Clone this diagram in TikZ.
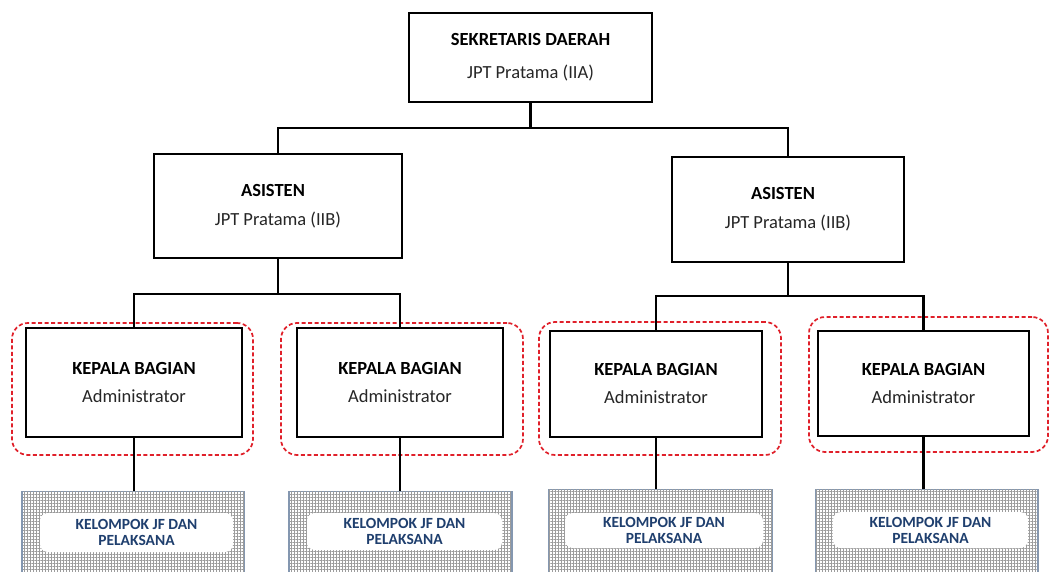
\documentclass[tikz,border=0pt]{standalone}
\usepackage{fontspec}
\setmainfont{Carlito}
\usetikzlibrary{patterns.meta}
\definecolor{jfblue}{HTML}{1F3F6E}
\definecolor{jfedge}{HTML}{8497B0}
\definecolor{dashred}{HTML}{E0202A}
\definecolor{gridgray}{HTML}{9C9C9C}

\begin{document}
\begin{tikzpicture}[x=1pt,y=-1pt,
  orgbox/.style={draw=black, line width=2.8pt, fill=white, align=center,
    inner sep=0pt, font=\fontsize{18.5}{28}\selectfont},
  link/.style={draw=black, line width=2.4pt},
  groupframe/.style={draw=dashred, line width=1.7pt, dash pattern=on 4pt off 2.5pt,
    rounded corners=16pt, inner sep=0pt},
  jfbox/.style={draw=jfedge, line width=1.2pt, anchor=north, inner sep=0pt,
    minimum height=100pt,
    preaction={fill=white},
    pattern={Lines[distance=3pt,angle=0,line width=0.7pt]}, pattern color=gridgray,
    postaction={pattern={Lines[distance=3pt,angle=90,line width=0.7pt]}, pattern color=gridgray}},
  jfinner/.style={fill=white, rounded corners=8pt, inner sep=0pt, align=center,
    text=jfblue, font=\bfseries\fontsize{15.5}{16}\selectfont}
]
\useasboundingbox (0,0) rectangle (1050,572);
\clip (0,0) rectangle (1050,572);
\fill[white] (0,0) rectangle (1050,572);

% dashed group frames around the section heads
\node[groupframe, minimum width=241pt, minimum height=132pt] (g1) at (132.5,389) {};
\node[groupframe, minimum width=242pt, minimum height=132pt] (g2) at (402,389) {};
\node[groupframe, minimum width=242pt, minimum height=133pt] (g3) at (660,388.5) {};
\node[groupframe, minimum width=239pt, minimum height=135pt] (g4) at (928.5,384.5) {};

% top level
\node[orgbox, minimum width=243pt, minimum height=89pt] (sek) at (530.5,57.5)
  {\textbf{SEKRETARIS DAERAH}\\[5pt]{\color{black!85}JPT Pratama (IIA)}};

% assistants
\node[orgbox, minimum width=248pt, minimum height=104pt] (asL) at (278,206)
  {\textbf{ASISTEN}\hspace*{10pt}\\[1pt]{\color{black!85}JPT Pratama (IIB)}};
\node[orgbox, minimum width=232pt, minimum height=105pt] (asR) at (788,209.5)
  {\textbf{ASISTEN}\hspace*{10pt}\\[1pt]{\color{black!85}JPT Pratama (IIB)}};

% section heads
\node[orgbox, minimum width=216pt, minimum height=109pt] (k1) at (134,382.5)
  {\textbf{KEPALA BAGIAN}\\{\color{black!85}Administrator}};
\node[orgbox, minimum width=206pt, minimum height=109pt] (k2) at (400,382.5)
  {\textbf{KEPALA BAGIAN}\\{\color{black!85}Administrator}};
\node[orgbox, minimum width=212pt, minimum height=106pt] (k3) at (656,384)
  {\textbf{KEPALA BAGIAN}\\{\color{black!85}Administrator}};
\node[orgbox, minimum width=211pt, minimum height=105pt] (k4) at (923.5,383.5)
  {\textbf{KEPALA BAGIAN}\\{\color{black!85}Administrator}};

% functional groups
\node[jfbox, minimum width=222pt] (j1) at (133,491) {};
\node[jfbox, minimum width=223pt] (j2) at (400.5,491) {};
\node[jfbox, minimum width=223pt] (j3) at (660.5,489) {};
\node[jfbox, minimum width=222pt] (j4) at (927,489) {};

\node[jfinner, minimum width=193pt, minimum height=39pt] (t1) at (136.5,532.5) {KELOMPOK JF DAN\\PELAKSANA};
\node[jfinner, minimum width=195pt, minimum height=37pt] (t2) at (404.5,531.5) {KELOMPOK JF DAN\\PELAKSANA};
\node[jfinner, minimum width=198pt, minimum height=35pt] (t3) at (664,530.5) {KELOMPOK JF DAN\\PELAKSANA};
\node[jfinner, minimum width=195pt, minimum height=36pt] (t4) at (930.5,530) {KELOMPOK JF DAN\\PELAKSANA};

% junction points of the connector bars
\coordinate (bus1) at (530.5,128);
\coordinate (bus2) at (278,294);
\coordinate (bus3) at (788,296);

\draw[link] (sek.south) -- (bus1);
\draw[link] (asL.north) |- (bus1) -| (asR.north);

\draw[link] (asL.south) -- (bus2);
\draw[link] (k1.north) |- (bus2) -| (k2.north);

\draw[link] (asR.south) -- (bus3);
\draw[link] (k3.north) |- (bus3) -| (k4.north);

\draw[link] (k1.south) -- (k1.south |- j1.north);
\draw[link] (k2.south) -- (k2.south |- j2.north);
\draw[link] (k3.south) -- (k3.south |- j3.north);
\draw[link] (k4.south) -- (k4.south |- j4.north);
\end{tikzpicture}
\end{document}
